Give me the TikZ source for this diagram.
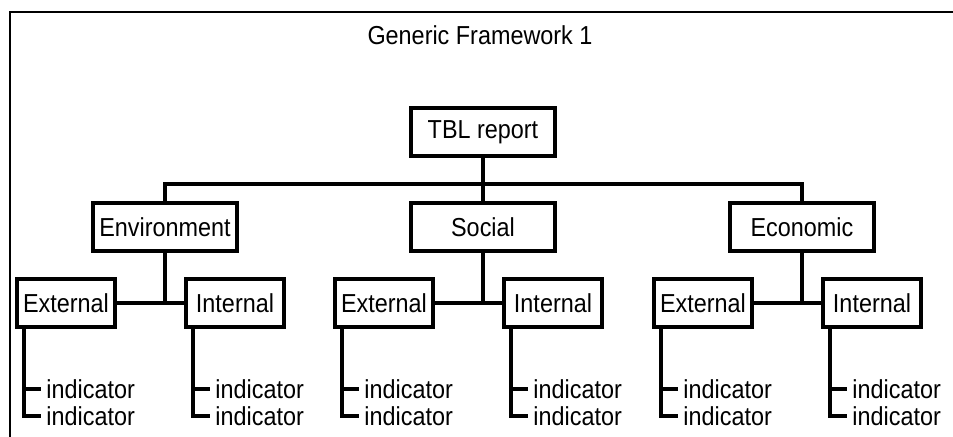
\documentclass[tikz,border=0pt]{standalone}
\usepackage{fontspec}
\setmainfont{Liberation Sans}[FakeStretch=0.9]
\usetikzlibrary{positioning}

\begin{document}
\begin{tikzpicture}[on grid,
    every node/.style={font=\fontsize{13}{15}\selectfont},
    box/.style={draw,line width=2pt,minimum width=72pt,minimum height=24pt,inner sep=0pt},
    subbox/.style={box,minimum width=49pt},
    ind/.style={anchor=mid west,inner sep=2.5pt},
    link/.style={line width=2pt}]
  \useasboundingbox (0,0) rectangle (476.5pt,-218.5pt);
  \draw[line width=1.2pt] (5pt,-222pt) |- (480pt,-6pt);
  \node[anchor=base] (title) at (240pt,-22.5pt) {Generic Framework 1};

  \node[box] (tbl) at (241.5pt,-66pt) {TBL report};
  \node[box] (soc) [below=47.5pt of tbl] {Social};
  \node[box] (env) [left=159pt of soc] {Environment};
  \node[box] (eco) [right=159.5pt of soc] {Economic};
  \coordinate (bar) at ([yshift=-13.25pt]tbl.south);

  % External / Internal under each pillar
  \node[subbox] (env-ext) [below left=38pt and 49.5pt of env] {External};
  \node[subbox] (env-int) [below right=38pt and 35pt of env] {Internal};
  \node[subbox] (soc-ext) [below left=38pt and 49.5pt of soc] {External};
  \node[subbox] (soc-int) [below right=38pt and 35pt of soc] {Internal};
  \node[subbox] (eco-ext) [below left=38pt and 49.5pt of eco] {External};
  \node[subbox] (eco-int) [below right=38pt and 35pt of eco] {Internal};

  \draw[link] (tbl) -- (soc);
  \draw[link] (env.north) |- (bar) -| (eco.north);
  \foreach \p in {env,soc,eco} {
    \draw[link] (\p.south) -- (\p.south |- \p-ext.east);
    \draw[link] (\p-ext) -- (\p-int);
    \foreach \s in {ext,int} {
      \node[ind] (\p-\s-a) at ([shift={(13pt,-32.2pt)}]\p-\s.south west) {indicator};
      \node[ind] (\p-\s-b) at ([shift={(13pt,-45.5pt)}]\p-\s.south west) {indicator};
      \draw[link] ([xshift=4.5pt]\p-\s.south west) |- (\p-\s-b.west);
      \draw[link] ([xshift=4.5pt]\p-\s.south west |- \p-\s-a.west) -- (\p-\s-a.west);
    }
  }
\end{tikzpicture}
\end{document}
